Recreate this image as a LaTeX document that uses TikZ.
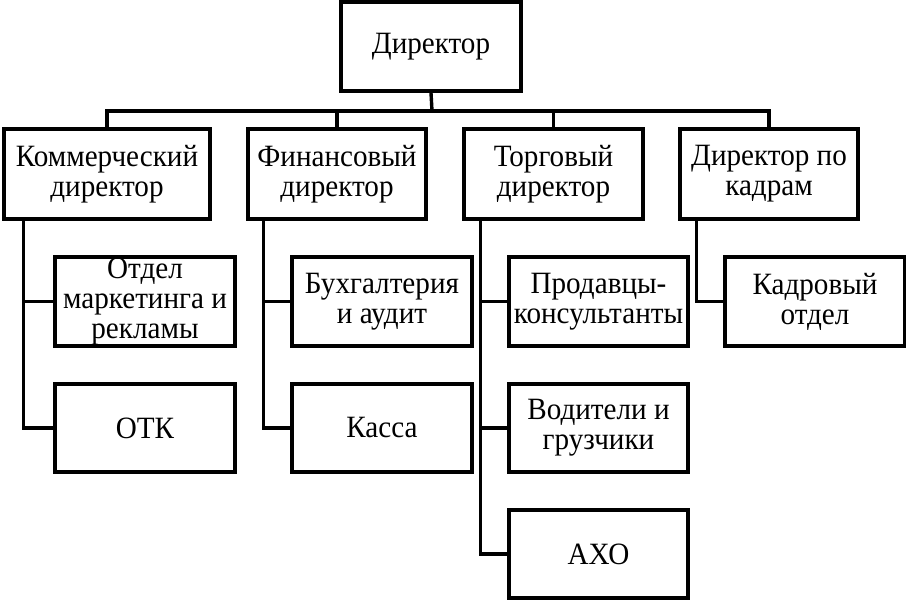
\documentclass[tikz,border=0pt]{standalone}
\usepackage{fontspec}
\setmainfont{Liberation Serif}[FakeStretch=0.94]
\begin{document}
\begin{tikzpicture}[x=1pt,y=-1pt,
  box/.style={draw,line width=3.6pt,inner sep=0pt,align=center,
    font=\fontsize{31}{30}\selectfont},
  link/.style={line width=3.4pt}]
\useasboundingbox (0,0) rectangle (906,601);
\node[box,minimum width=180,minimum height=89] (dir) at (431,46.5) {Директор};
\node[box,minimum width=206,minimum height=90] (com) at (107,174) {Коммерческий\\директор};
\node[box,minimum width=178,minimum height=90] (fin) at (337,174) {Финансовый\\директор};
\node[box,minimum width=179,minimum height=90] (tra) at (553.5,174) {Торговый\\директор};
\node[box,minimum width=178,minimum height=90] (hr) at (769,174) {Директор по\\кадрам};
\node[box,minimum width=180,minimum height=89] (mar) at (145,301.5) {Отдел\\маркетинга и\\рекламы};
\node[box,minimum width=180,minimum height=88] (otk) at (145,428) {ОТК};
\node[box,minimum width=180,minimum height=89] (buh) at (382,301.5) {Бухгалтерия\\и аудит};
\node[box,minimum width=180,minimum height=88] (kas) at (382,428) {Касса};
\node[box,minimum width=179,minimum height=89] (pro) at (598.5,301.5) {Продавцы-\\консультанты};
\node[box,minimum width=179,minimum height=88] (vod) at (598.5,428) {Водители и\\грузчики};
\node[box,minimum width=179,minimum height=88] (axo) at (598.5,554) {АХО};
\node[box,minimum width=180,minimum height=89] (kad) at (815,301.5) {Кадровый\\отдел};
\coordinate (bus) at (432,111);
\draw[link] (dir.south) -- (bus);
\draw[link] (com.north) |- (bus) -| (hr.north);
\draw[link] (fin.north) -- (fin.north |- bus);
\draw[link] (tra.north) -- (tra.north |- bus);
\draw[link] ([xshift=21]com.south west) |- (mar.west);
\draw[link] ([xshift=21]com.south west) |- (otk.west);
\draw[link] ([xshift=17]fin.south west) |- (buh.west);
\draw[link] ([xshift=17]fin.south west) |- (kas.west);
\draw[link] ([xshift=18]tra.south west) |- (pro.west);
\draw[link] ([xshift=18]tra.south west) |- (vod.west);
\draw[link] ([xshift=18]tra.south west) |- (axo.west);
\draw[link] ([xshift=18]hr.south west) |- (kad.west);
\end{tikzpicture}
\end{document}
